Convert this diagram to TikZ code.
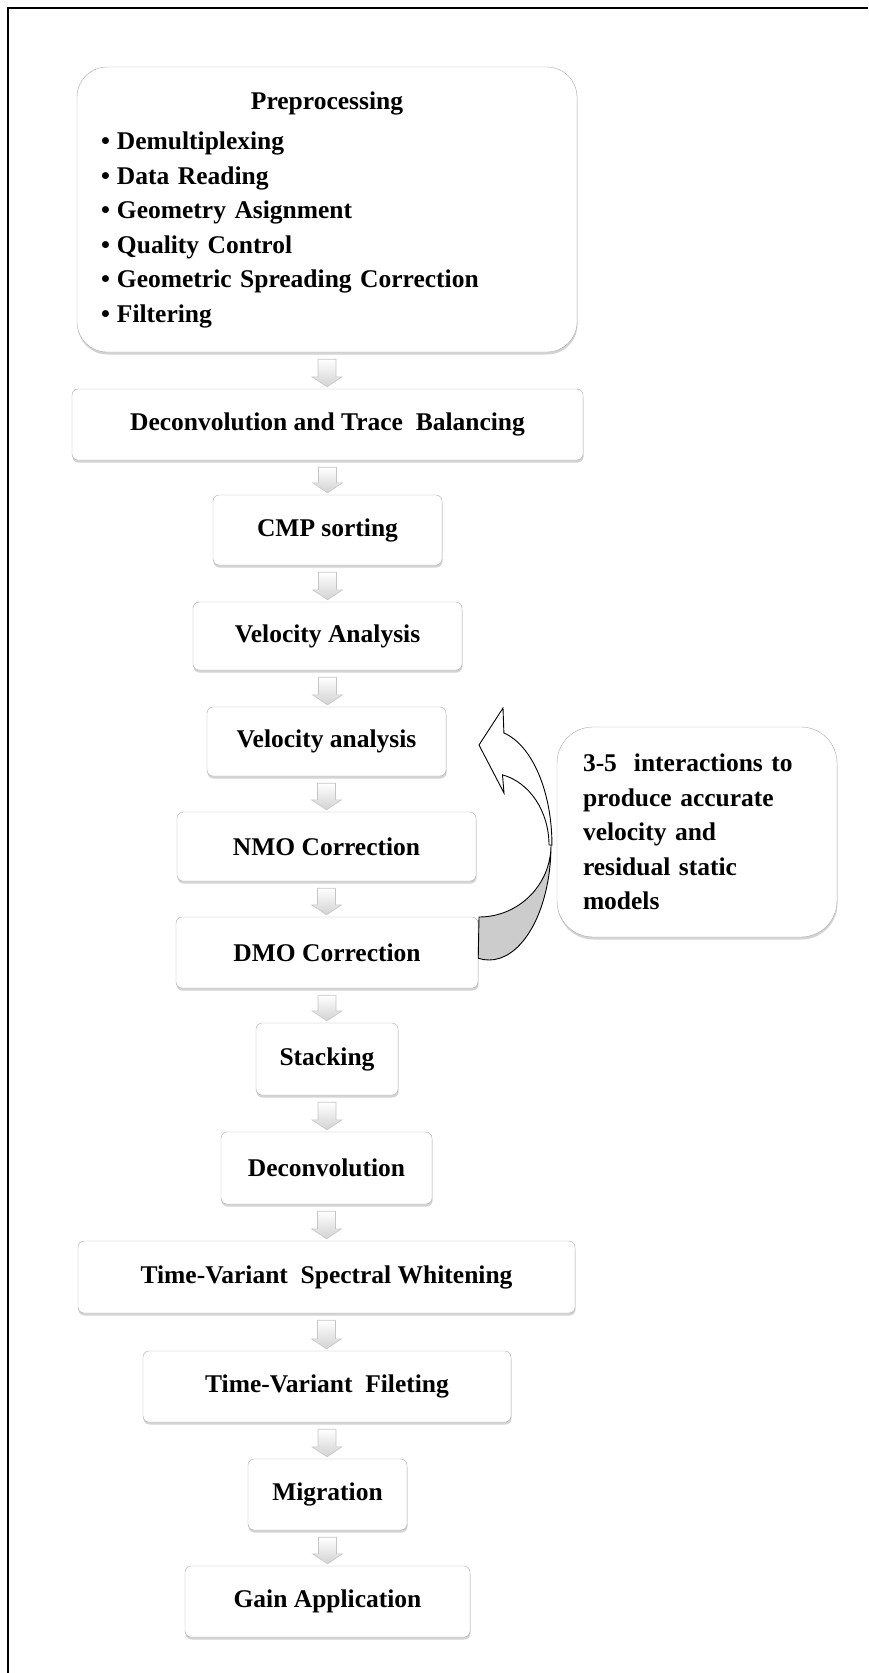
\documentclass[tikz,border=0pt]{standalone}
\usepackage{fontspec}
\setmainfont{Liberation Serif}
\usetikzlibrary{calc,shadows}

\tikzset{
 box/.style={draw=gray!65, fill=white, rounded corners=6pt, inner sep=0pt,
   minimum height=70pt, align=center,
   font=\fontsize{25.5}{34.5}\selectfont\bfseries,
   drop shadow={shadow xshift=0.5pt, shadow yshift=-2.5pt, opacity=0.35, fill=gray}},
 bigbox/.style={box, rounded corners=30pt},
 notebox/.style={box, rounded corners=36pt, align=left},
 stepfill/.style={top color=white, bottom color=gray!35, draw=gray!45, line width=0.6pt},
 loopband/.style={draw=black, line width=0.9pt}
}

\newcommand{\stepdown}[2]{%
 \shade[stepfill] let \p1=(#1.south), \p2=(#2.north) in
  (\x1-9,\y1-7) -- (\x1+9,\y1-7) -- (\x1+9,\y2+12) -- (\x1+15,\y2+12)
  -- (\x1,\y2+2) -- (\x1-15,\y2+12) -- (\x1-9,\y2+12) -- cycle;}

\begin{document}
\begin{tikzpicture}[x=1pt,y=1pt]
 \useasboundingbox (0,0) rectangle (868,-1673);

 \draw[line width=2.6pt] (8,-1673) -- (8,-8) -- (868,-8);

 \node[bigbox, minimum width=500pt, minimum height=285pt, text width=452pt, align=left] (pre) at (327,-209.5)
  {\makebox[452pt][c]{Preprocessing}\\[6pt]
   \makebox[16pt][l]{•}Demultiplexing\\
   \makebox[16pt][l]{•}Data Reading\\
   \makebox[16pt][l]{•}Geometry Asignment\\
   \makebox[16pt][l]{•}Quality Control\\
   \makebox[16pt][l]{•}Geometric Spreading Correction\\
   \makebox[16pt][l]{•}Filtering};

 \node[box, minimum width=511pt, minimum height=71pt] (dtb) at (327.5,-424.5) {Deconvolution and Trace\ \ Balancing};
 \node[box, minimum width=229pt] (cmp) at (327.5,-530) {CMP sorting};
 \node[box, minimum width=269pt, minimum height=68pt] (vela) at (327.5,-636) {Velocity Analysis};
 \node[box, minimum width=239pt, minimum height=69pt] (velb) at (326.5,-741.5) {Velocity analysis};
 \node[box, minimum width=299pt, minimum height=69pt] (nmo) at (326.5,-846.5) {NMO Correction};
 \node[box, minimum width=302pt, minimum height=71pt] (dmo) at (327,-952.5) {DMO Correction};
 \node[box, minimum width=142pt, minimum height=72pt] (stack) at (327,-1059) {Stacking};
 \node[box, minimum width=211pt, minimum height=72pt] (deconv) at (326.5,-1168) {Deconvolution};
 \node[box, minimum width=497pt, minimum height=72pt] (tvsw) at (326.5,-1277) {Time-Variant\ \ Spectral Whitening};
 \node[box, minimum width=368pt, minimum height=71pt] (tvf) at (327,-1386.5) {Time-Variant\ \ Fileting};
 \node[box, minimum width=159pt, minimum height=71pt] (mig) at (327.5,-1494.5) {Migration};
 \node[box, minimum width=285pt, minimum height=71pt] (gain) at (327.5,-1601.5) {Gain Application};

 \node[notebox, minimum width=280pt, minimum height=210pt, text width=228pt] (note) at (697,-832)
  {3-5\ \ interactions to\\ produce accurate\\ velocity and\\ residual static\\ models};

 \stepdown{pre}{dtb}
 \stepdown{dtb}{cmp}
 \stepdown{cmp}{vela}
 \stepdown{vela}{velb}
 \stepdown{velb}{nmo}
 \stepdown{nmo}{dmo}
 \stepdown{dmo}{stack}
 \stepdown{stack}{deconv}
 \stepdown{deconv}{tvsw}
 \stepdown{tvsw}{tvf}
 \stepdown{tvf}{mig}
 \stepdown{mig}{gain}

 % loop back from DMO to velocity analysis
 \path coordinate (LT) at (479,-917)
  coordinate (HT) at (503,-708)
  coordinate (HL) at (479,-745)
  coordinate (HB) at (504,-793);

 \filldraw[loopband, fill=gray!40] (LT) arc[start angle=-90, end angle=0, radius=72]
  arc[start angle=0, end angle=-100, x radius=62, y radius=115] -- cycle;
 \filldraw[loopband, fill=white] (503.9,-733) arc[start angle=77, end angle=0, x radius=62, y radius=115]
  -- (549,-845) arc[start angle=0, end angle=77, x radius=60, y radius=72]
  -- (HB) -- (HL) -- (HT) -- cycle;

\end{tikzpicture}
\end{document}
